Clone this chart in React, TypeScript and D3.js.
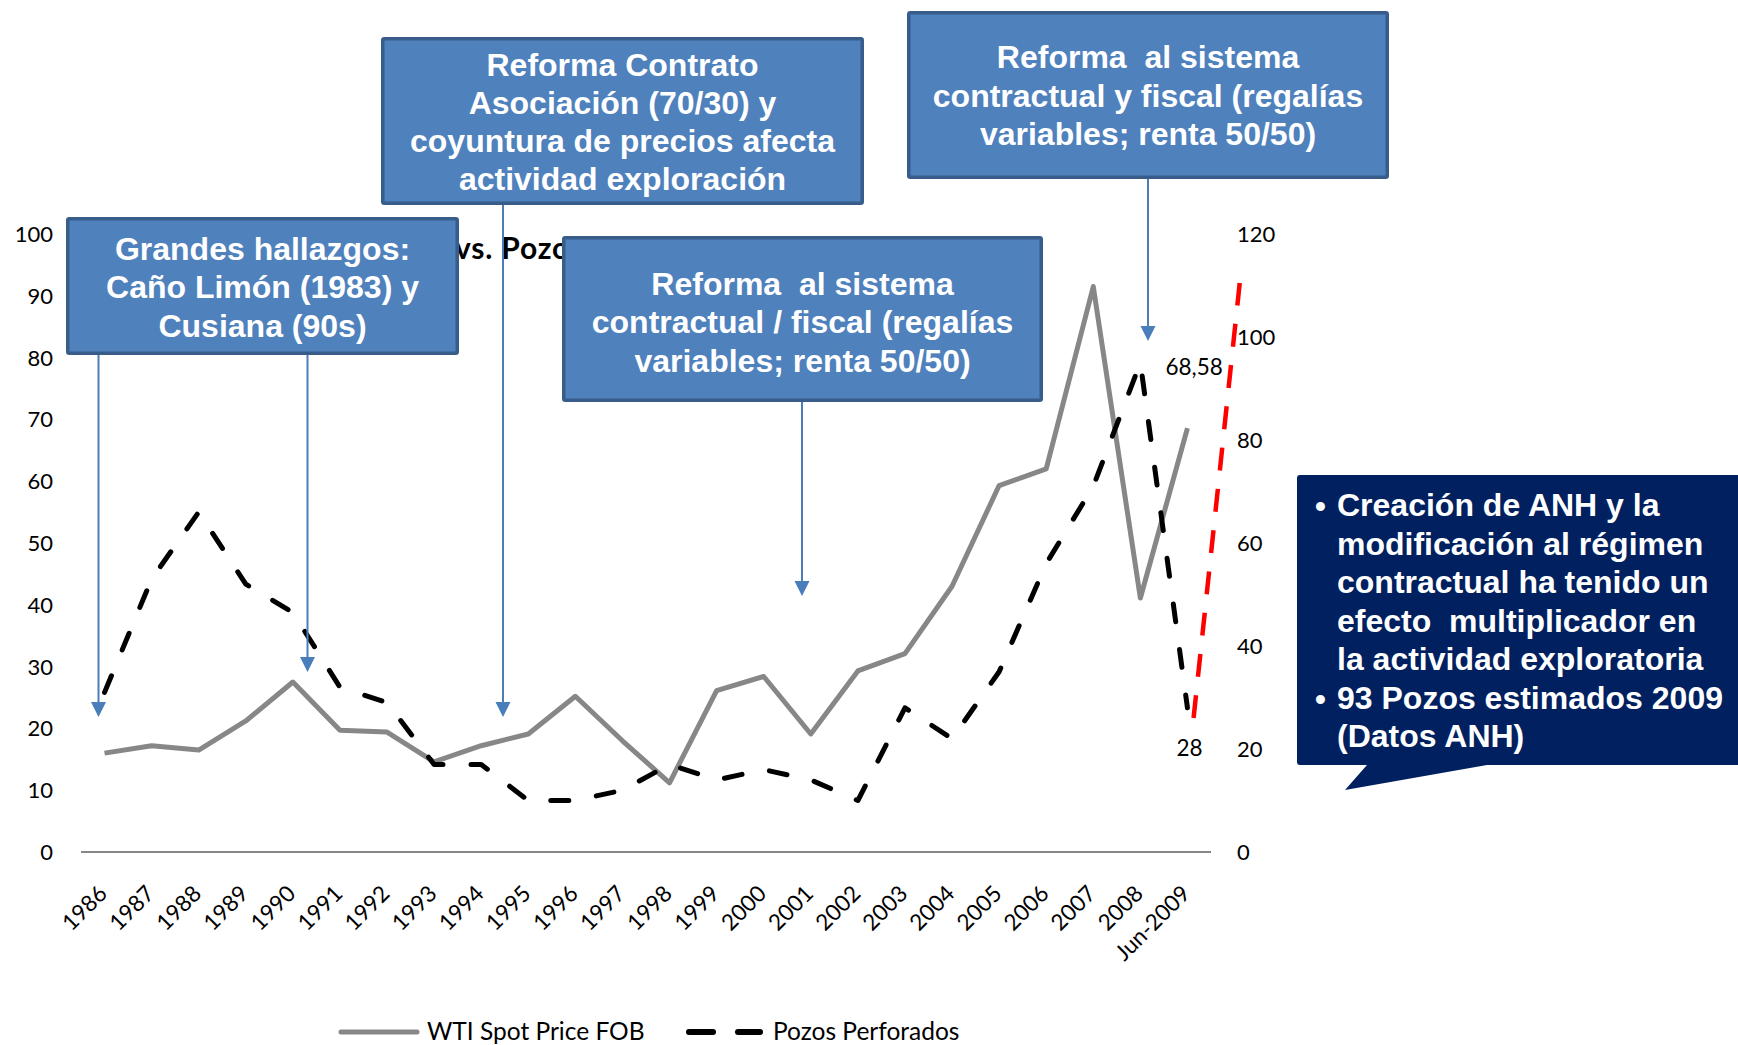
import React from 'react';
import * as d3 from 'd3';

// ---------- data ----------
const categories = ['1986', '1987', '1988', '1989', '1990', '1991', '1992', '1993', '1994', '1995', '1996', '1997', '1998', '1999', '2000', '2001', '2002', '2003', '2004', '2005', '2006', '2007', '2008', 'Jun-2009'];
const wtiPrice = [16.0, 17.2, 16.5, 21.2, 27.5, 19.7, 19.4, 14.6, 17.2, 19.1, 25.2, 18.0, 11.2, 26.1, 28.4, 19.1, 29.3, 32.1, 43.0, 59.3, 62.0, 91.5, 41.1, 68.58];
const pozosPerforados = [31, 53, 66, 52, 46.5, 32, 29, 17, 17, 10, 10, 12, 17, 14, 16, 14, 10, 28, 22, 35, 56, 71, 95, 28];
const leftTicks = [0, 10, 20, 30, 40, 50, 60, 70, 80, 90, 100];
const rightTicks = [0, 20, 40, 60, 80, 100, 120];
const projectionIdx = [23.13, 24.11];
const projectionVal = [26, 110.5];
const seriesNames = ['WTI Spot Price FOB', 'Pozos Perforados'];
const lastWtiLabel = '68,58';
const lastPozosLabel = '28';

const boxTexts = [
  ['Grandes hallazgos:', 'Caño Limón (1983) y', 'Cusiana (90s)'],
  ['Reforma Contrato', 'Asociación (70/30) y', 'coyuntura de precios afecta', 'actividad exploración'],
  ['Reforma  al sistema', 'contractual / fiscal (regalías', 'variables; renta 50/50)'],
  ['Reforma  al sistema', 'contractual y fiscal (regalías', 'variables; renta 50/50)'],
];
const calloutLines = [
  { bullet: true, text: 'Creación de ANH y la' },
  { bullet: false, text: 'modificación al régimen' },
  { bullet: false, text: 'contractual ha tenido un' },
  { bullet: false, text: 'efecto  multiplicador en' },
  { bullet: false, text: 'la actividad exploratoria' },
  { bullet: true, text: '93 Pozos estimados 2009' },
  { bullet: false, text: '(Datos ANH)' },
];
const titleHidden = 'Precio WTI';
const titleVisible = 'vs. Pozos Perforados';

// ---------- layout ----------
const W = 1738;
const H = 1045;
const boxLayout = [
  { x0: 66, x1: 459, y0: 217, y1: 355, baselines: [260, 298, 337] },
  { x0: 381, x1: 864, y0: 37, y1: 205, baselines: [76, 114, 152, 190] },
  { x0: 562, x1: 1043, y0: 236, y1: 402, baselines: [295, 333, 372] },
  { x0: 907, x1: 1389, y0: 11, y1: 179, baselines: [68, 107, 145] },
];
const arrows = [
  { x: 98.5, y0: 355, y1: 717 },
  { x: 307.5, y0: 355, y1: 672 },
  { x: 503, y0: 205, y1: 717 },
  { x: 802, y0: 402, y1: 596 },
  { x: 1148, y0: 179, y1: 341 },
];

const x = d3.scaleBand<string>().domain(categories).range([81, 1211]);
const cx = (c: string) => (x(c) as number) + x.bandwidth() / 2;
const xi = d3
  .scaleLinear()
  .domain([0, categories.length - 1])
  .range([cx(categories[0]), cx(categories[categories.length - 1])]);
const yL = d3.scaleLinear().domain([0, 100]).range([852, 234]);
const yR = d3.scaleLinear().domain([0, 120]).range([852, 234]);

const wtiLine = d3
  .line<number>()
  .x((_, i) => cx(categories[i]))
  .y((d) => yL(d));
const pozosLine = d3
  .line<number>()
  .x((_, i) => cx(categories[i]))
  .y((d) => yR(d));
const projLine = d3
  .line<number>()
  .x((_, i) => xi(projectionIdx[i]))
  .y((d) => yR(d));

const LABEL_FONT = 'Lato, "Open Sans", sans-serif';
const BOX_FONT = '"Liberation Sans", Arial, sans-serif';
const BOX_FILL = '#4F81BD';
const BOX_STROKE = '#385D8A';
const ARROW = '#4A7EBB';

export default function App() {
  const nLast = categories.length - 1;
  return (
    <svg
      width={W}
      height={H}
      viewBox={`0 0 ${W} ${H}`}
      style={{ position: 'absolute', left: 0, top: 0, display: 'block', background: '#fff' }}
    >
      <rect x={0} y={0} width={W} height={H} fill="#fff" />

      {/* title (mostly hidden behind boxes, as in the original) */}
      <text x={452} y={259} textAnchor="end" fontFamily={LABEL_FONT} fontWeight={700} fontSize={30} fill="#000">
        {titleHidden}
      </text>
      <text x={455} y={259} fontFamily={LABEL_FONT} fontWeight={700} fontSize={30} letterSpacing={0.8} fill="#000">
        {titleVisible}
      </text>

      {/* x axis line */}
      <line x1={81} x2={1211} y1={yL(0)} y2={yL(0)} stroke="#878787" strokeWidth={2} />

      {/* left ticks */}
      {leftTicks.map((t) => (
        <text key={'l' + t} x={53} y={yL(t)} dy="0.36em" textAnchor="end" fontFamily={LABEL_FONT} fontSize={22} fill="#000">
          {t}
        </text>
      ))}
      {/* right ticks */}
      {rightTicks.map((t) => (
        <text key={'r' + t} x={1237} y={yR(t)} dy="0.36em" textAnchor="start" fontFamily={LABEL_FONT} fontSize={22} fill="#000">
          {t}
        </text>
      ))}
      {/* category labels */}
      {categories.map((c) => {
        const ax = cx(c) + 4;
        const ay = 895;
        return (
          <text
            key={c}
            x={ax}
            y={ay}
            textAnchor="end"
            transform={`rotate(-45 ${ax} ${ay})`}
            fontFamily={LABEL_FONT}
            fontSize={22.5}
            fill="#000"
          >
            {c}
          </text>
        );
      })}

      {/* series */}
      <path d={wtiLine(wtiPrice) || ''} fill="none" stroke="#878787" strokeWidth={5} strokeLinejoin="round" />
      <path
        d={pozosLine(pozosPerforados) || ''}
        fill="none"
        stroke="#000"
        strokeWidth={5}
        strokeDasharray="18 28"
        strokeLinecap="round"
        strokeLinejoin="round"
      />
      <path d={projLine(projectionVal) || ''} fill="none" stroke="#FF0000" strokeWidth={4.5} strokeDasharray="23 18.5" />

      {/* data labels */}
      <text x={cx(categories[nLast]) - 22} y={yL(wtiPrice[nLast]) - 53} fontFamily={LABEL_FONT} fontSize={22.5} fill="#000">
        {lastWtiLabel}
      </text>
      <text x={cx(categories[nLast]) + 2} y={yR(pozosPerforados[nLast]) + 48} textAnchor="middle" fontFamily={LABEL_FONT} fontSize={22.5} fill="#000">
        {lastPozosLabel}
      </text>

      {/* annotation boxes */}
      {boxLayout.map((b, i) => (
        <g key={'box' + i}>
          <rect
            x={b.x0 + 1.75}
            y={b.y0 + 1.75}
            width={b.x1 - b.x0 - 3.5}
            height={b.y1 - b.y0 - 3.5}
            fill={BOX_FILL}
            stroke={BOX_STROKE}
            strokeWidth={3.5}
            rx={1.5}
          />
          {boxTexts[i].map((t, j) => (
            <text
              key={j}
              x={(b.x0 + b.x1) / 2}
              y={b.baselines[j]}
              textAnchor="middle"
              fontFamily={BOX_FONT}
              fontWeight={700}
              fontSize={32}
              fill="#fff"
              style={{ whiteSpace: 'pre' }}
            >
              {t}
            </text>
          ))}
        </g>
      ))}

      {/* arrows */}
      {arrows.map((a, i) => (
        <g key={'ar' + i}>
          <line x1={a.x} x2={a.x} y1={a.y0} y2={a.y1 - 12} stroke={ARROW} strokeWidth={2} />
          <path d={`M${a.x - 7.5},${a.y1 - 15} L${a.x + 7.5},${a.y1 - 15} L${a.x},${a.y1} Z`} fill={ARROW} />
        </g>
      ))}

      {/* callout */}
      <path
        d="M1300,475 L1760,475 L1760,765 L1487,765 L1345,790 L1367,765 L1300,765 Q1297,765 1297,762 L1297,478 Q1297,475 1300,475 Z"
        fill="#002060"
      />
      {calloutLines.map((l, i) => (
        <g key={'cl' + i}>
          {l.bullet && (
            <text x={1315} y={517 + i * 38.5} fontFamily={BOX_FONT} fontWeight={700} fontSize={31} fill="#fff">
              •
            </text>
          )}
          <text x={1337} y={516 + i * 38.5} fontFamily={BOX_FONT} fontWeight={700} fontSize={32} fill="#fff" style={{ whiteSpace: 'pre' }}>
            {l.text}
          </text>
        </g>
      ))}

      {/* legend */}
      <line x1={341} x2={417} y1={1032} y2={1032} stroke="#878787" strokeWidth={5} strokeLinecap="round" />
      <text x={427} y={1040} fontFamily={LABEL_FONT} fontSize={24.5} fill="#000">
        {seriesNames[0]}
      </text>
      <line x1={689} x2={713} y1={1032} y2={1032} stroke="#000" strokeWidth={6} strokeLinecap="round" />
      <line x1={738} x2={760} y1={1032} y2={1032} stroke="#000" strokeWidth={6} strokeLinecap="round" />
      <text x={773} y={1040} fontFamily={LABEL_FONT} fontSize={24.5} fill="#000">
        {seriesNames[1]}
      </text>
    </svg>
  );
}
